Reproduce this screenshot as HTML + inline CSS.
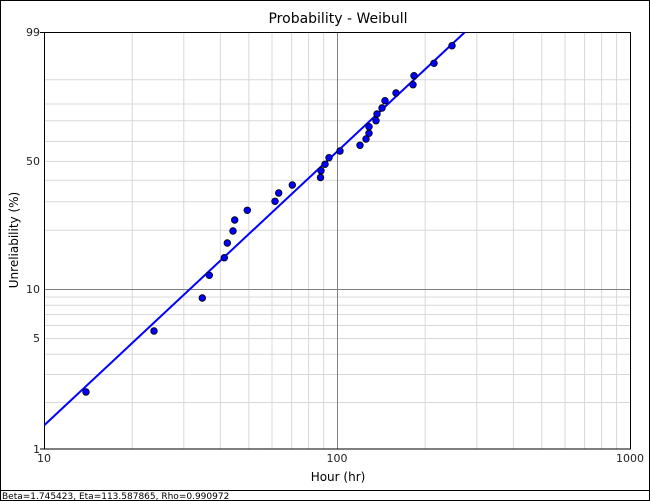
<!DOCTYPE html>
<html><head><meta charset="utf-8"><style>
html,body{margin:0;padding:0;background:#fff;}
svg{display:block;font-family:"DejaVu Sans","Liberation Sans",sans-serif;}
</style></head><body>
<svg width="650" height="501" viewBox="0 0 650 501" xmlns="http://www.w3.org/2000/svg">
<rect x="0.5" y="0.5" width="649" height="500" fill="#fff" stroke="#000"/>
<line x1="0" y1="490.5" x2="650" y2="490.5" stroke="#000"/>
<text x="2" y="499" font-size="9" fill="#000">Beta=1.745423, Eta=113.587865, Rho=0.990972</text>
<text x="338" y="23" font-size="14" text-anchor="middle">Probability - Weibull</text>
<g stroke="#d8d8d8" stroke-width="1">
<line x1="132.2" y1="32.5" x2="132.2" y2="449"/><line x1="183.8" y1="32.5" x2="183.8" y2="449"/><line x1="220.4" y1="32.5" x2="220.4" y2="449"/><line x1="248.8" y1="32.5" x2="248.8" y2="449"/><line x1="272" y1="32.5" x2="272" y2="449"/><line x1="291.6" y1="32.5" x2="291.6" y2="449"/><line x1="308.6" y1="32.5" x2="308.6" y2="449"/><line x1="323.6" y1="32.5" x2="323.6" y2="449"/>
<line x1="425.2" y1="32.5" x2="425.2" y2="449"/><line x1="476.8" y1="32.5" x2="476.8" y2="449"/><line x1="513.4" y1="32.5" x2="513.4" y2="449"/><line x1="541.8" y1="32.5" x2="541.8" y2="449"/><line x1="565" y1="32.5" x2="565" y2="449"/><line x1="584.6" y1="32.5" x2="584.6" y2="449"/><line x1="601.6" y1="32.5" x2="601.6" y2="449"/><line x1="616.6" y1="32.5" x2="616.6" y2="449"/>
<line x1="44" y1="79.7" x2="630" y2="79.7"/><line x1="44" y1="104" x2="630" y2="104"/><line x1="44" y1="120.7" x2="630" y2="120.7"/><line x1="44" y1="141.5" x2="630" y2="141.5"/><line x1="44" y1="161.4" x2="630" y2="161.4"/><line x1="44" y1="180.3" x2="630" y2="180.3"/><line x1="44" y1="201.8" x2="630" y2="201.8"/><line x1="44" y1="230.2" x2="630" y2="230.2"/>
<line x1="44" y1="297" x2="630" y2="297"/><line x1="44" y1="305.2" x2="630" y2="305.2"/><line x1="44" y1="314.6" x2="630" y2="314.6"/><line x1="44" y1="325.5" x2="630" y2="325.5"/><line x1="44" y1="338.5" x2="630" y2="338.5"/><line x1="44" y1="354.3" x2="630" y2="354.3"/><line x1="44" y1="374.5" x2="630" y2="374.5"/><line x1="44" y1="402.5" x2="630" y2="402.5"/>
</g>
<line x1="337.5" y1="32.5" x2="337.5" y2="449" stroke="#808080"/>
<line x1="44" y1="289.5" x2="630" y2="289.5" stroke="#808080"/>
<rect x="44.5" y="32.5" width="586" height="416.5" fill="none" stroke="#000"/>
<line x1="40" y1="32.5" x2="44" y2="32.5" stroke="#000"/>
<line x1="40" y1="449" x2="44" y2="449" stroke="#000"/>
<g font-size="11" fill="#222">
<text x="40" y="36" text-anchor="end">99</text>
<text x="40" y="165" text-anchor="end">50</text>
<text x="40" y="293" text-anchor="end">10</text>
<text x="40" y="342" text-anchor="end">5</text>
<text x="40" y="453" text-anchor="end">1</text>
<text x="44" y="462" text-anchor="middle">10</text>
<text x="337" y="462" text-anchor="middle">100</text>
<text x="630" y="462" text-anchor="middle">1000</text>
</g>
<text x="338" y="481" font-size="12" text-anchor="middle">Hour (hr)</text>
<text transform="translate(18,240) rotate(-90)" font-size="12" text-anchor="middle">Unreliability (%)</text>
<line x1="44.5" y1="425" x2="464.5" y2="32.5" stroke="#0000ff" stroke-width="2"/>
<g fill="#0000ff" stroke="#000" stroke-width="0.8">
<circle cx="86" cy="392" r="3.3"/><circle cx="154" cy="331" r="3.3"/><circle cx="202.3" cy="298" r="3.3"/><circle cx="209.3" cy="275.3" r="3.3"/><circle cx="224.3" cy="257.7" r="3.3"/><circle cx="227.3" cy="243" r="3.3"/><circle cx="233" cy="231" r="3.3"/><circle cx="234.7" cy="220" r="3.3"/><circle cx="247.3" cy="210.3" r="3.3"/><circle cx="275" cy="201.3" r="3.3"/><circle cx="278.7" cy="193" r="3.3"/><circle cx="292.3" cy="185" r="3.3"/><circle cx="320.5" cy="177.5" r="3.3"/><circle cx="321" cy="170.7" r="3.3"/><circle cx="325" cy="164.3" r="3.3"/><circle cx="329" cy="157.7" r="3.3"/><circle cx="340" cy="151" r="3.3"/><circle cx="360" cy="145.3" r="3.3"/><circle cx="366" cy="139" r="3.3"/><circle cx="369" cy="133.3" r="3.3"/><circle cx="369" cy="126.7" r="3.3"/><circle cx="376" cy="120.7" r="3.3"/><circle cx="377" cy="114" r="3.3"/><circle cx="382" cy="108" r="3.3"/><circle cx="385" cy="100.7" r="3.3"/><circle cx="396" cy="93" r="3.3"/><circle cx="413" cy="84.7" r="3.3"/><circle cx="414" cy="75.7" r="3.3"/><circle cx="434" cy="63.3" r="3.3"/><circle cx="452" cy="45.7" r="3.3"/>
</g>
</svg>
</body></html>
